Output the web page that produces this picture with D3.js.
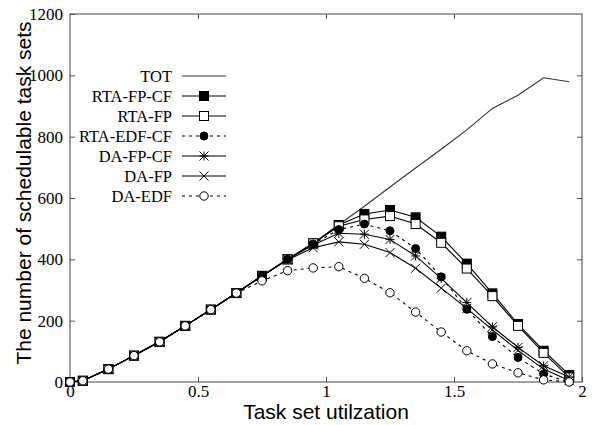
<!DOCTYPE html>
<html>
<head>
    <meta charset="utf-8">
    <script src="https://cdnjs.cloudflare.com/ajax/libs/d3/7.8.5/d3.min.js"></script>
    <style>
        body {
            margin: 0;
            background: #fff;
        }
        .tick text {
            font-family: "Liberation Serif", "Times New Roman", serif;
            font-size: 17px;
            fill: #000;
        }
        .tick line {
            stroke: #555;
        }
        .legend text {
            font-family: "Liberation Serif", "Times New Roman", serif;
            font-size: 16.5px;
        }
        .title {
            font-family: "Liberation Sans", Arial, sans-serif;
            font-size: 21px;
        }
    </style>
</head>
<body>
<svg id="chart" width="596" height="425"></svg>
<script>
    // utilization points on the x axis
    let utilization = [0, 0.05, 0.15, 0.25, 0.35, 0.45, 0.55, 0.65, 0.75, 0.85, 0.95,
        1.05, 1.15, 1.25, 1.35, 1.45, 1.55, 1.65, 1.75, 1.85, 1.95];

    let tot      = [0, 5, 42, 87, 133, 183, 237, 290, 345, 400, 453, 513, 573, 636, 698, 759, 822, 892, 935, 992, 979];
    let rtaFpCf  = [0, 4, 42, 86, 131, 183, 236, 290, 346, 400, 452, 512, 548, 561, 537, 474, 386, 289, 189, 102, 23];
    let rtaFp    = [0, 4, 42, 86, 131, 183, 236, 290, 346, 400, 452, 508, 530, 541, 515, 454, 370, 280, 183, 95, 15];
    let rtaEdfCf = [0, 4, 42, 86, 131, 183, 236, 290, 346, 400, 450, 497, 515, 493, 435, 343, 237, 148, 80, 26, 0];
    let daFpCf   = [0, 4, 42, 86, 131, 183, 236, 290, 346, 400, 447, 485, 482, 465, 411, 338, 259, 180, 113, 53, 16];
    let daFp     = [0, 4, 42, 86, 131, 183, 236, 290, 346, 398, 438, 457, 449, 422, 371, 306, 240, 170, 103, 42, 5];
    let daEdf    = [0, 4, 42, 86, 131, 183, 236, 290, 330, 363, 372, 376, 338, 291, 228, 163, 102, 59, 30, 7, 0];

    let xTicks = [0, 0.5, 1, 1.5, 2];
    let yTicks = [0, 200, 400, 600, 800, 1000, 1200];

    let series = [
        {name: "TOT", values: tot, marker: "none", dash: null},
        {name: "RTA-FP-CF", values: rtaFpCf, marker: "fsquare", dash: null},
        {name: "RTA-FP", values: rtaFp, marker: "osquare", dash: null},
        {name: "RTA-EDF-CF", values: rtaEdfCf, marker: "fcircle", dash: "3,4"},
        {name: "DA-FP-CF", values: daFpCf, marker: "star", dash: null},
        {name: "DA-FP", values: daFp, marker: "cross", dash: null},
        {name: "DA-EDF", values: daEdf, marker: "ocircle", dash: "3,4"}
    ];

    var svg = d3.select("#chart");
    svg.append("rect").attr("width", 596).attr("height", 425).attr("fill", "#fff");

    var x = d3.scaleLinear().domain([0, 2]).range([70, 582]);
    var y = d3.scaleLinear().domain([0, 1200]).range([382, 14]);

    // axes, ticks pointing inward on all four sides
    svg.append("g").attr("transform", "translate(0,382)")
        .call(d3.axisBottom(x).tickValues(xTicks).tickSizeInner(-5).tickSizeOuter(0).tickPadding(3).tickFormat(d3.format("~g")));
    svg.append("g").attr("transform", "translate(0,14)")
        .call(d3.axisTop(x).tickValues(xTicks.slice(1, -1)).tickSizeInner(-5).tickSizeOuter(0).tickFormat(""));
    svg.append("g").attr("transform", "translate(70,0)")
        .call(d3.axisLeft(y).tickValues(yTicks).tickSizeInner(-5).tickSizeOuter(0).tickPadding(7).tickFormat(d3.format("d")));
    svg.append("g").attr("transform", "translate(582,0)")
        .call(d3.axisRight(y).tickValues(yTicks.slice(1, -1)).tickSizeInner(-5).tickSizeOuter(0).tickFormat(""));
    svg.selectAll(".domain").remove();

    svg.append("rect")
        .attr("x", 70).attr("y", 14)
        .attr("width", 512).attr("height", 368)
        .attr("fill", "none")
        .attr("stroke", "#444")
        .attr("stroke-width", 1);

    function drawMarker(g, type, cx, cy) {
        if (type == "fsquare" || type == "osquare") {
            g.append("rect")
                .attr("x", cx - 4.5).attr("y", cy - 4.5)
                .attr("width", 9).attr("height", 9)
                .attr("fill", type == "fsquare" ? "#000" : "#fff")
                .attr("stroke", "#000").attr("stroke-width", 1);
        } else if (type == "fcircle" || type == "ocircle") {
            g.append("circle")
                .attr("cx", cx).attr("cy", cy)
                .attr("r", type == "fcircle" ? 4 : 4.2)
                .attr("fill", type == "fcircle" ? "#000" : "#fff")
                .attr("stroke", "#000").attr("stroke-width", 1);
        } else if (type == "cross" || type == "star") {
            var s = 4.5;
            var d = "M" + (cx - s) + "," + (cy - s) + "L" + (cx + s) + "," + (cy + s) +
                "M" + (cx - s) + "," + (cy + s) + "L" + (cx + s) + "," + (cy - s);
            if (type == "star") {
                d += "M" + (cx - s) + "," + cy + "L" + (cx + s) + "," + cy +
                    "M" + cx + "," + (cy - s) + "L" + cx + "," + (cy + s);
            }
            g.append("path").attr("d", d)
                .attr("fill", "none").attr("stroke", "#000").attr("stroke-width", 1);
        }
    }

    var line = d3.line()
        .x((d, i) => x(utilization[i]))
        .y(d => y(d));

    series.forEach(s => {
        var g = svg.append("g");
        g.append("path")
            .datum(s.values)
            .attr("d", line)
            .attr("fill", "none")
            .attr("stroke", s.marker == "none" ? "#333" : "#000")
            .attr("stroke-width", 1.1)
            .attr("stroke-dasharray", s.dash);
        s.values.forEach((v, i) => drawMarker(g, s.marker, x(utilization[i]), y(v)));
    });

    // legend
    var legend = svg.append("g").attr("class", "legend");
    series.forEach((s, i) => {
        var ly = 76 + i * 20;
        legend.append("text")
            .attr("x", 172).attr("y", ly).attr("dy", "0.35em")
            .attr("text-anchor", "end")
            .text(s.name);
        legend.append("line")
            .attr("x1", 182).attr("x2", 226)
            .attr("y1", ly).attr("y2", ly)
            .attr("stroke", s.marker == "none" ? "#333" : "#000")
            .attr("stroke-width", 1.1)
            .attr("stroke-dasharray", s.dash);
        drawMarker(legend, s.marker, 204, ly);
    });

    svg.append("text").attr("class", "title")
        .attr("x", 326).attr("y", 419)
        .attr("text-anchor", "middle")
        .text("Task set utilzation");

    svg.append("text").attr("class", "title")
        .attr("transform", "translate(31,193) rotate(-90)")
        .attr("text-anchor", "middle")
        .text("The number of schedulable task sets");
</script>
</body>
</html>
